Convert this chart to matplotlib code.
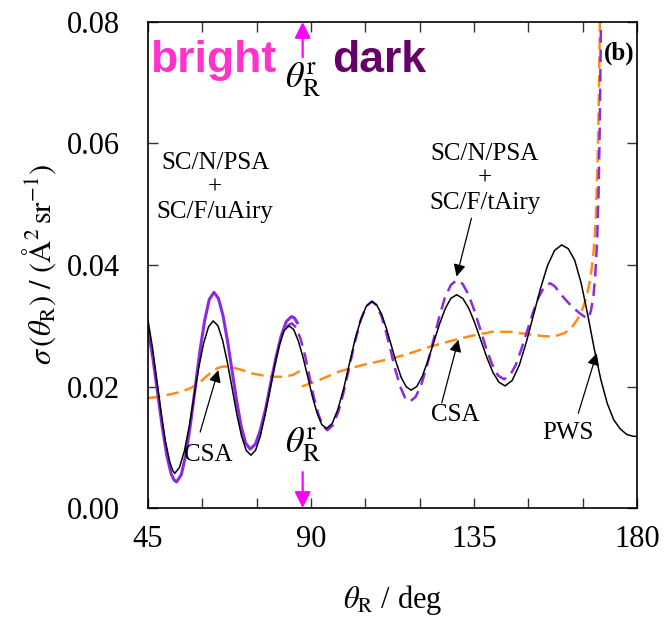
import matplotlib
matplotlib.use("Agg")
import matplotlib.pyplot as plt
from matplotlib.ticker import FixedLocator

plt.rcParams["font.family"] = "serif"
plt.rcParams["font.serif"] = ["Liberation Serif", "DejaVu Serif"]
plt.rcParams["mathtext.fontset"] = "stix"

# rainbow angle (deg)
theta_r = 87.7

# PWS (black, solid)
pws_theta = [45.0, 46.2, 47.4, 48.6, 49.8, 51.0, 51.8, 52.4, 53.7, 55.05, 56.4, 57.7,
             59.0, 60.35, 61.7, 63.0, 64.3, 65.6, 66.9, 68.2, 69.5, 70.8, 72.1, 73.4,
             74.7, 76.0, 77.3, 78.65, 79.95, 81.3, 82.6, 83.9, 85.2, 86.5, 87.8, 89.1,
             90.4, 91.7, 93.0, 94.3, 95.85, 97.4, 99.0, 100.55, 102.1, 103.7, 105.25,
             106.8, 108.15, 109.5, 110.85, 112.2, 113.55, 114.9, 116.25, 117.6, 119.2,
             120.75, 122.3, 123.9, 125.5, 127.05, 128.6, 130.2, 131.9, 133.55, 135.2,
             136.9, 138.6, 140.25, 141.9, 143.6, 145.55, 147.5, 149.45, 151.4, 153.35,
             155.3, 157.25, 159.2, 161.0, 162.8, 164.6, 166.4, 168.2, 170.0, 171.8,
             173.6, 175.4, 177.2, 179.0, 180.0]
pws_sigma = [0.0309, 0.0265, 0.0212, 0.0158, 0.0110, 0.0076, 0.0062, 0.0057, 0.0067, 0.0094,
             0.0135, 0.0183, 0.0231, 0.0271, 0.0298, 0.0308, 0.0300, 0.0276, 0.0240, 0.0198,
             0.0155, 0.0119, 0.0095, 0.0087, 0.0095, 0.0118, 0.0153, 0.0194, 0.0234, 0.0269,
             0.0292, 0.0300, 0.0294, 0.0275, 0.0248, 0.0216, 0.0183, 0.0156, 0.0137, 0.0131,
             0.0139, 0.0162, 0.0196, 0.0236, 0.0276, 0.0309, 0.0332, 0.0340, 0.0334, 0.0319,
             0.0295, 0.0267, 0.0239, 0.0215, 0.0200, 0.0194, 0.0200, 0.0217, 0.0243, 0.0273,
             0.0303, 0.0328, 0.0345, 0.0351, 0.0345, 0.0329, 0.0305, 0.0276, 0.0247, 0.0223,
             0.0207, 0.0201, 0.0210, 0.0235, 0.0273, 0.0317, 0.0361, 0.0399, 0.0424, 0.0433,
             0.0427, 0.0408, 0.0370, 0.0318, 0.0262, 0.0212, 0.0172, 0.0145, 0.0130, 0.0121,
             0.0118, 0.0118]

# SC/N/PSA + SC/F/uAiry (purple, solid, bright side)
uairy_theta = [45.0, 46.3, 47.6, 48.9, 50.2, 51.4, 52.2, 52.9, 54.2, 55.5, 56.75, 58.05,
               59.35, 60.65, 61.9, 63.2, 64.45, 65.7, 66.95, 68.2, 69.45, 70.7, 71.95,
               73.2, 74.65, 76.05, 77.5, 78.9, 80.35, 81.75, 83.2, 84.6, 85.4, 86.2]
uairy_sigma = [0.0293, 0.0248, 0.0192, 0.0135, 0.0086, 0.0056, 0.0046, 0.0043, 0.0055, 0.0089,
               0.0139, 0.0199, 0.0259, 0.0309, 0.0343, 0.0355, 0.0345, 0.0317, 0.0275, 0.0226,
               0.0177, 0.0135, 0.0107, 0.0097, 0.0105, 0.0129, 0.0164, 0.0206, 0.0248, 0.0283,
               0.0307, 0.0315, 0.0313, 0.0305]

# SC/N/PSA + SC/F/tAiry (purple, dashed, dark side)
tairy_theta = [83.3, 84.0, 84.7, 85.9, 87.15, 88.4, 89.6, 90.8, 92.05, 93.3, 94.5, 96.0,
               97.6, 99.1, 100.65, 102.2, 103.7, 105.25, 106.8, 108.1, 109.45, 110.75,
               112.05, 113.35, 114.7, 116.0, 117.3, 118.9, 120.5, 122.15, 123.75, 125.35,
               126.95, 128.6, 130.2, 131.85, 133.5, 135.1, 136.75, 138.4, 140.05, 141.65,
               143.3, 144.9, 146.5, 148.05, 149.65, 151.25, 152.85, 154.4, 156.0, 157.3,
               158.7, 160.1, 161.5, 162.9, 164.3, 165.5, 166.6, 167.3, 168.0, 168.5,
               169.0, 169.4, 169.7, 169.9, 170.1]
tairy_sigma = [0.0297, 0.0302, 0.0304, 0.0297, 0.0278, 0.0250, 0.0216, 0.0182, 0.0154, 0.0135,
               0.0128, 0.0136, 0.0159, 0.0193, 0.0234, 0.0275, 0.0309, 0.0332, 0.0340, 0.0334,
               0.0316, 0.0289, 0.0258, 0.0226, 0.0199, 0.0181, 0.0175, 0.0183, 0.0204, 0.0237,
               0.0275, 0.0313, 0.0346, 0.0367, 0.0375, 0.0369, 0.0351, 0.0325, 0.0294, 0.0262,
               0.0236, 0.0218, 0.0212, 0.0218, 0.0235, 0.0261, 0.0291, 0.0321, 0.0347, 0.0364,
               0.0370, 0.0365, 0.0354, 0.0344, 0.0335, 0.0327, 0.0320, 0.0315, 0.0312, 0.0325,
               0.0350, 0.0385, 0.0440, 0.0520, 0.0620, 0.0720, 0.0820]

# CSA (orange, dashed), two branches split at the rainbow angle
csa_bright_theta = [45.0, 48.0, 51.0, 54.0, 56.6, 59.0, 61.0, 63.0, 64.5, 66.0, 68.0, 71.0,
                    74.0, 77.0, 80.0, 82.5, 85.0, 87.4]
csa_bright_sigma = [0.0181, 0.0183, 0.0187, 0.0191, 0.0197, 0.0205, 0.0216, 0.0226, 0.0231,
                    0.0233, 0.0232, 0.0227, 0.0221, 0.0218, 0.0216, 0.0216, 0.0219, 0.0227]
csa_dark_theta = [87.5, 92.0, 98.0, 104.0, 110.0, 116.0, 122.0, 128.0, 134.0, 140.0, 145.0,
                  150.0, 154.0, 157.0, 160.0, 162.0, 163.5, 165.0, 166.2, 167.2, 168.0,
                  168.6, 169.1, 169.5, 169.8]
csa_dark_sigma = [0.0200, 0.0210, 0.0225, 0.0235, 0.0243, 0.0252, 0.0264, 0.0274, 0.0283,
                  0.0290, 0.0290, 0.0286, 0.0283, 0.0282, 0.0288, 0.0297, 0.0310, 0.0328,
                  0.0350, 0.0380, 0.0420, 0.0470, 0.0560, 0.0680, 0.0820]

x_major = [45, 90, 135, 180]
x_minor = [60, 75, 105, 120, 150, 165]
y_ticks = [0.00, 0.02, 0.04, 0.06, 0.08]

purple = "#8a2be2"
orange = "#ff8c1a"
magenta = "#ff00ff"

fig = plt.figure(figsize=(6.64, 6.19), dpi=100)
ax = fig.add_axes([0.2229, 0.1793, 0.7364, 0.7852])

ax.plot(csa_bright_theta, csa_bright_sigma, color=orange, lw=1.8, dashes=(5, 2.5))
ax.plot(csa_dark_theta, csa_dark_sigma, color=orange, lw=1.8, dashes=(5, 2.5))
ax.plot(uairy_theta, uairy_sigma, color=purple, lw=2.2)
ax.plot(tairy_theta, tairy_sigma, color=purple, lw=1.8, dashes=(5, 2.8))
ax.plot(pws_theta, pws_sigma, color="black", lw=1.1)

ax.set_xlim(45, 180)
ax.set_ylim(0, 0.08)
ax.xaxis.set_major_locator(FixedLocator(x_major))
ax.xaxis.set_minor_locator(FixedLocator(x_minor))
ax.set_yticks(y_ticks)
ax.set_yticklabels([f"{v:.2f}" for v in y_ticks])
ax.tick_params(which="both", direction="in", length=7, width=1.0,
               top=True, right=True, labelsize=22, color="#333333")
ax.tick_params(axis="x", pad=12)
ax.tick_params(axis="y", pad=20)
for sp in ax.spines.values():
    sp.set_linewidth(1.2)

ax.set_xlabel(r"$\theta_{\mathrm{R}}$ / deg", fontsize=22)
ax.xaxis.set_label_coords(0.5, -0.155)
ax.set_ylabel(r"$\sigma\,(\theta_{\mathrm{R}})\ /\ (\mathrm{\AA}^{2}\,\mathrm{sr}^{-1})$",
              fontsize=22)
ax.yaxis.set_label_coords(-0.185, 0.5)

# bright / dark labels and rainbow-angle markers
ax.text(45.6, 0.0718, "bright", color="#ff33cc", fontsize=32, fontweight="bold",
        family="Liberation Sans", ha="left", va="baseline")
ax.text(95.8, 0.0718, "dark", color="#660066", fontsize=32, fontweight="bold",
        family="Liberation Sans", ha="left", va="baseline")
ax.text(theta_r, 0.0705, r"$\theta_{\mathrm{R}}^{\mathrm{r}}$", fontsize=26,
        ha="center", va="center")
ax.text(theta_r, 0.0105, r"$\theta_{\mathrm{R}}^{\mathrm{r}}$", fontsize=26,
        ha="center", va="center")
mag_arrow = dict(arrowstyle="-|>", color=magenta, lw=1.6, mutation_scale=24,
                 shrinkA=0, shrinkB=0)
ax.annotate("", xy=(theta_r, 0.0800), xytext=(theta_r, 0.0742), arrowprops=mag_arrow,
            annotation_clip=False)
ax.annotate("", xy=(theta_r, 0.0000), xytext=(theta_r, 0.0059), arrowprops=mag_arrow,
            annotation_clip=False)

ax.text(175.0, 0.0749, "(b)", fontsize=18, fontweight="bold", ha="center", va="center")

# curve labels
ax.text(63.5, 0.0527, "SC/N/PSA\n+\nSC/F/uAiry", fontsize=18, ha="center", va="center",
        linespacing=1.15)
ax.text(138.0, 0.0543, "SC/N/PSA\n+\nSC/F/tAiry", fontsize=18, ha="center", va="center",
        linespacing=1.15)

black_arrow = dict(arrowstyle="-|>", color="black", lw=0.9, mutation_scale=18,
                   shrinkA=0, shrinkB=0)
ax.annotate("", xy=(130.2, 0.0381), xytext=(134.3, 0.0477), arrowprops=black_arrow)
ax.annotate("", xy=(64.4, 0.0227), xytext=(59.4, 0.0125), arrowprops=black_arrow)
ax.text(61.6, 0.0087, "CSA", fontsize=18, ha="center", va="center")
ax.annotate("", xy=(130.7, 0.0277), xytext=(126.1, 0.0173), arrowprops=black_arrow)
ax.text(129.8, 0.0153, "CSA", fontsize=18, ha="center", va="center")
ax.annotate("", xy=(168.9, 0.0255), xytext=(163.8, 0.0156), arrowprops=black_arrow)
ax.text(161.0, 0.0123, "PWS", fontsize=18, ha="center", va="center")

fig.savefig("out.png", dpi=100)
